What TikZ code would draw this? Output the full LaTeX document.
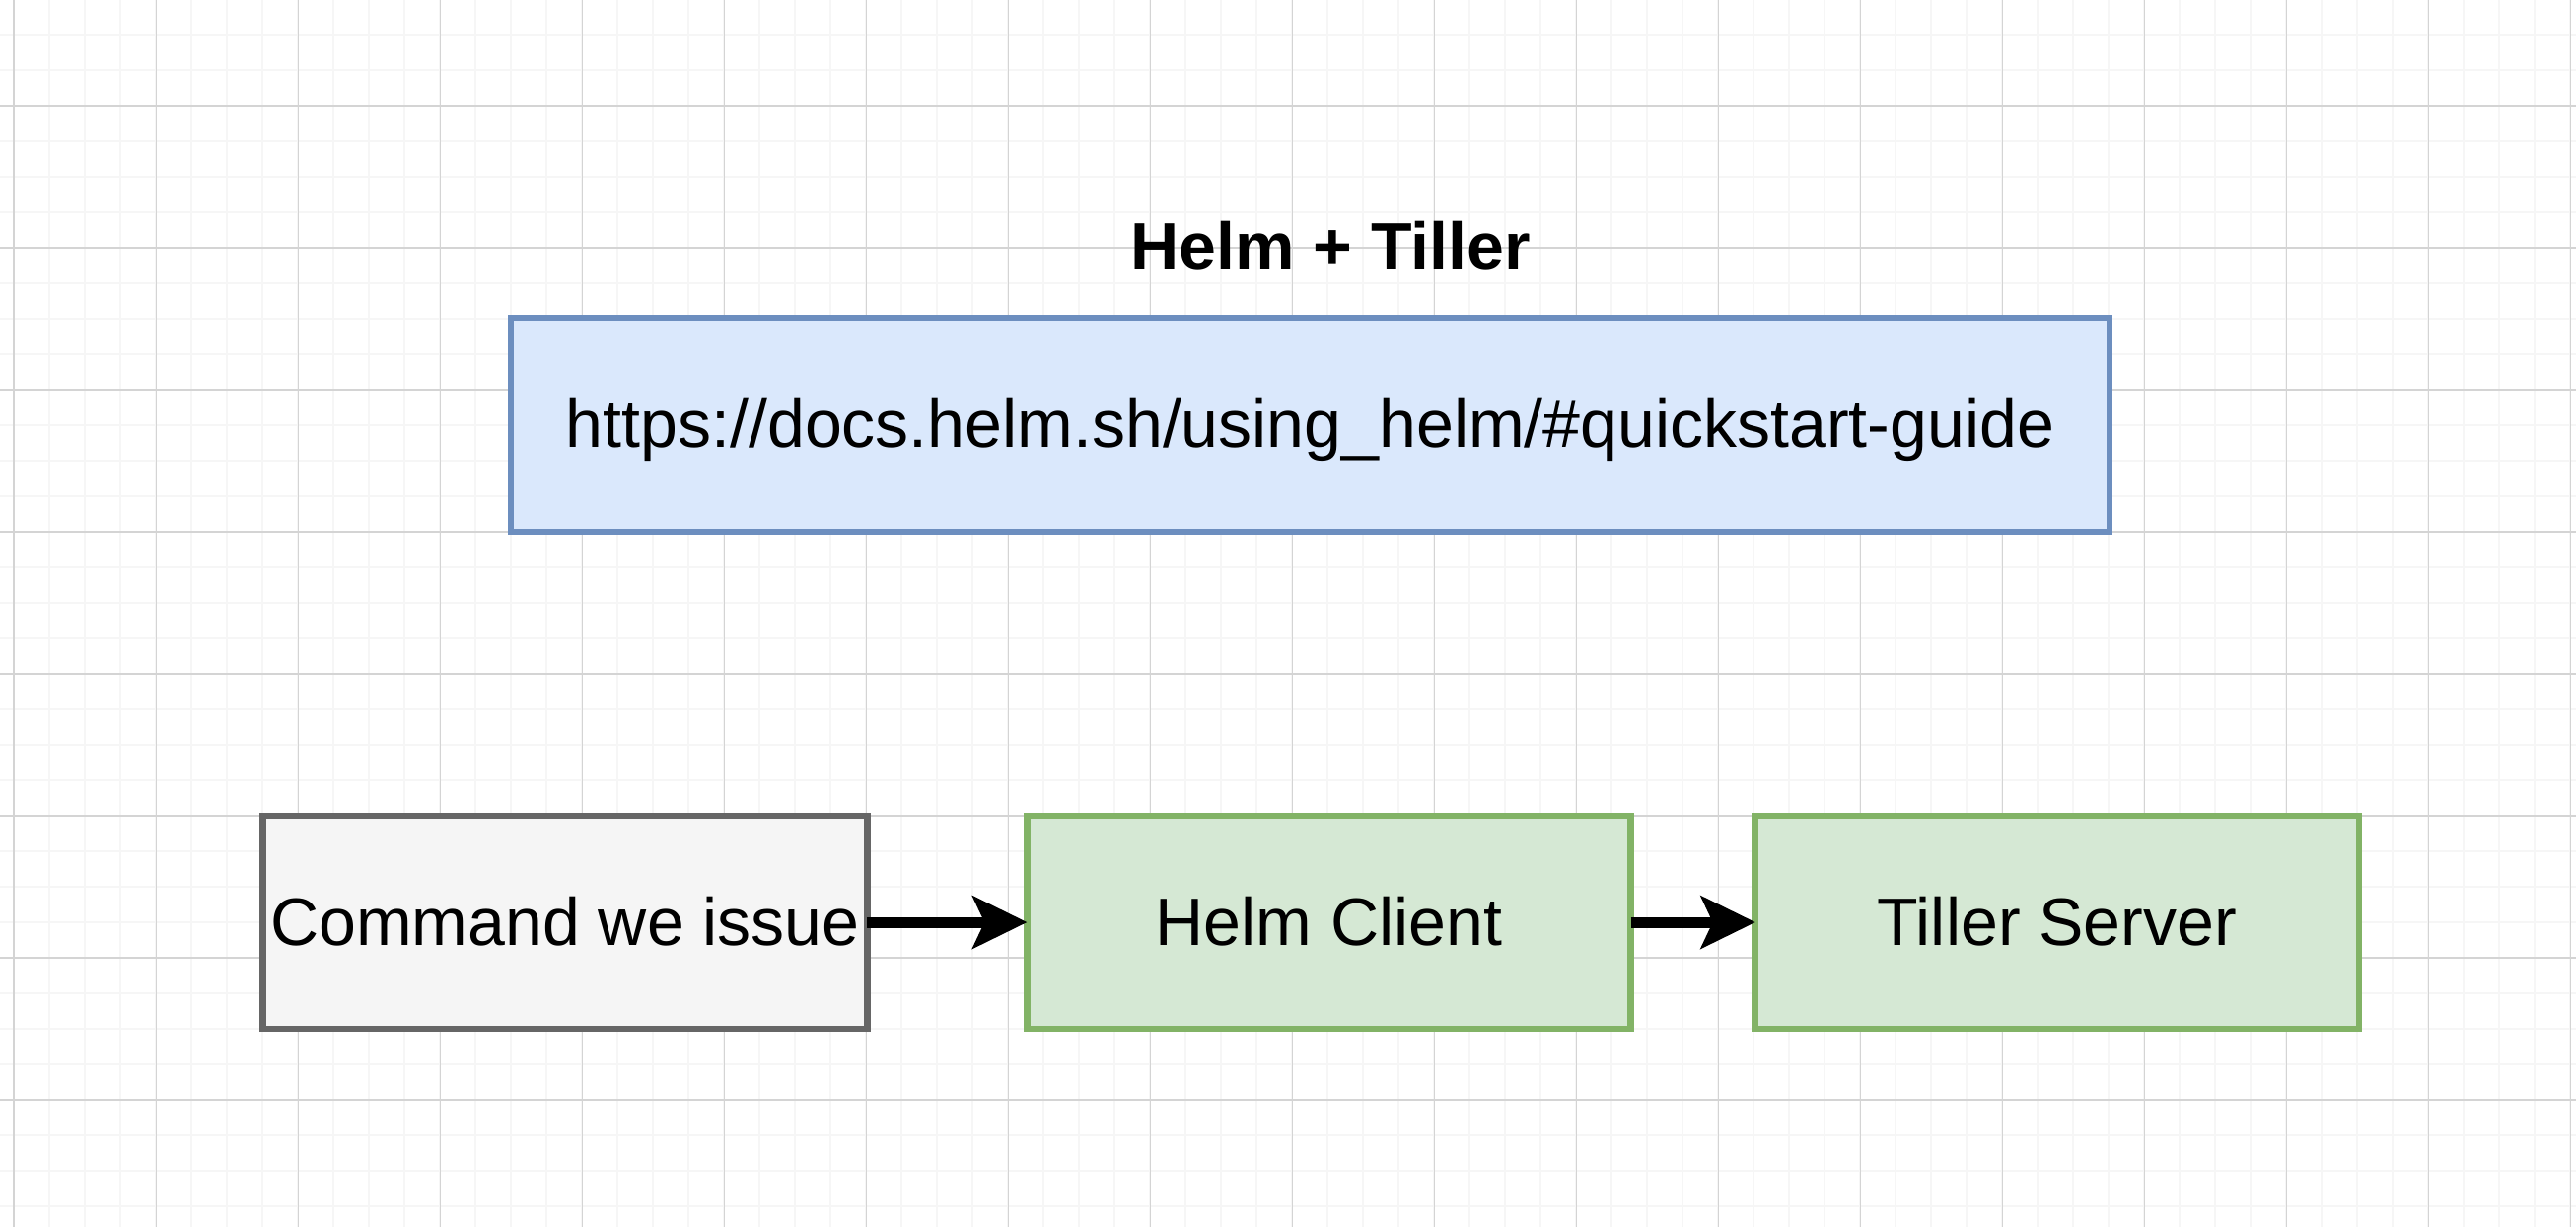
\documentclass[tikz,border=0pt]{standalone}
\usepackage{fontspec}
\setmainfont{Liberation Sans}
\usepackage{tikz}
\usetikzlibrary{positioning}
\usetikzlibrary{arrows.meta}
\definecolor{mybluei}{RGB}{218,232,252}
\definecolor{mybluel}{RGB}{108,142,191}
\definecolor{mygreen}{RGB}{213,232,212}
\definecolor{mygreenl}{RGB}{130,179,102}
\definecolor{mygray}{RGB}{245,245,245}
\definecolor{mygrayl}{RGB}{102,102,102}
\definecolor{gridmin}{RGB}{246,246,246}
\definecolor{gridmaj}{RGB}{212,212,212}

\begin{document}
\begin{tikzpicture}[x=0.01cm,y=-0.01cm,outer sep=0pt,
grayb/.style={
  draw=mygrayl,
  fill=mygray,
  line width=0.068cm,
  minimum width=6.12cm,
  minimum height=2.16cm,
  inner sep=0pt,
  font=\fontsize{19.35}{23}\selectfont,
  text height=0.72cm,
  text depth=0.26cm},
greenb/.style={grayb,draw=mygreenl,fill=mygreen},
blueb/.style={grayb,draw=mybluel,fill=mybluei,minimum width=16.2cm,minimum height=2.17cm},
link/.style={line width=0.11cm,-{Stealth[length=0.56cm,width=0.55cm,inset=0.13cm,line width=0pt]}},
]
\useasboundingbox (0,0) rectangle (2612,1244);
\fill[white] (0,0) rectangle (2612,1244);
% grid
\foreach \k in {0,...,72}
  \draw[gridmin,line width=0.018cm] ({14.2+36*\k},0) -- ({14.2+36*\k},1244);
\foreach \k in {0,...,34}
  \draw[gridmin,line width=0.018cm] (0,{-1+36*\k}) -- (2612,{-1+36*\k});
\foreach \k in {0,...,18}
  \draw[gridmaj,line width=0.014cm] ({14.2+144*\k},0) -- ({14.2+144*\k},1244);
\foreach \k in {0,...,7}
  \draw[gridmaj,line width=0.014cm] (0,{107+144*\k}) -- (2612,{107+144*\k});

\node[font=\fontsize{19.35}{23}\selectfont\bfseries, anchor=base] (title) at (1349,273) {Helm + Tiller};
\node[blueb] (docs) at (1328.5,430.5) {https://docs.helm.sh/using\_helm/\#quickstart-guide};
\node[grayb] (cmd) at (573,935) {Command we issue};
\node[greenb, right=1.62cm of cmd] (helm) {Helm Client};
\node[greenb, right=1.26cm of helm] (tiller) {Tiller Server};

\draw[link] (cmd.east) -- (helm.west);
\draw[link] (helm.east) -- (tiller.west);
\end{tikzpicture}
\end{document}
